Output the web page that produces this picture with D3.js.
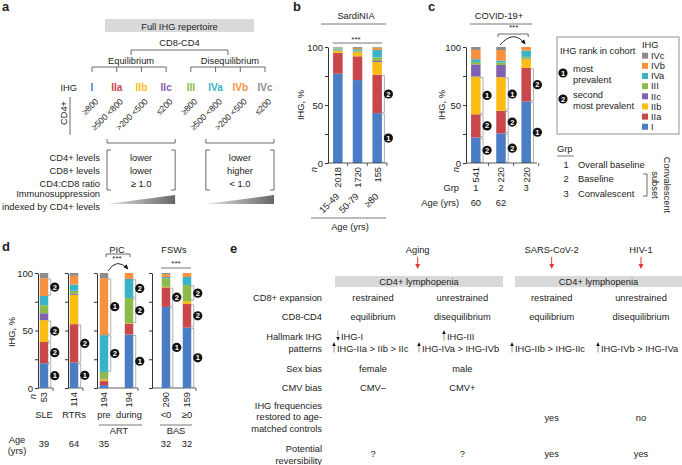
<!DOCTYPE html>
<html>
<head>
<meta charset="utf-8">
<script src="https://cdn.jsdelivr.net/npm/d3@7"></script>
<style>
body { margin: 0; background: #fff; }
svg text { font-family: "Liberation Sans", Arial, sans-serif; font-size: 9.3px; fill: #222; }
</style>
</head>
<body>
<svg id="fig" width="682" height="465"></svg>
<script>
// IHG groups and colours
var ihgTypes = ["I", "IIa", "IIb", "IIc", "III", "IVa", "IVb", "IVc"];
var ihgColors = ["#4a7dc4", "#c8474b", "#fbbd14", "#8062b0", "#8dbb4b", "#3ab3c9", "#f6923f", "#8c8c8c"];

// panel a
var cd4Bins = ["≥800", "≥500 <800", ">200 <500", "≤200"];
var levelLabels = ["CD4+ levels", "CD8+ levels", "CD4:CD8 ratio"];
var eqLevels = ["lower", "lower", "≥ 1.0"];
var diseqLevels = ["lower", "higher", "< 1.0"];

// panel b: SardiNIA, % of each IHG (I..IVc)
var sardAges = ["15-49", "50-79", "≥80"];
var sardN = ["2018", "1720", "155"];
var sardValues = [
    [77, 18, 1.5, 0.3, 1, 1, 0.8, 0.4],
    [71.5, 20.5, 3.5, 0.5, 1, 1.2, 1, 0.8],
    [43, 33, 11, 1, 3, 6.5, 2, 0.5]
];
var sardRanks = [[], [], [[0, 1], [1, 2]]];   // [IHG index, rank]

// panel c: COVID-19+
var covGrp = ["1", "2", "3"];
var covN = ["541", "220", "220"];
var covAge = ["60", "62", ""];
var covValues = [
    [22, 20, 32.5, 10.5, 2, 2.5, 8, 2.5],
    [25.5, 19.5, 29, 10.5, 2, 1.7, 9.2, 2.6],
    [53, 29, 7.5, 0.5, 1.5, 5.5, 3, 0]
];
var covRanks = [[[0, 2], [1, 2], [2, 1]], [[0, 2], [1, 2], [2, 1]], [[0, 1], [1, 2]]];
var grpNames = ["Overall baseline", "Baseline", "Convalescent"];

// panel d
var dGroups = ["SLE", "RTRs", "PIC", "FSWs"];
var dBars = ["SLE", "RTRs", "pre", "during", "<0", "≥0"];
var dBarGroup = ["SLE", "RTRs", "PIC", "PIC", "FSWs", "FSWs"];
var dN = ["53", "114", "194", "194", "290", "159"];
var dAge = ["39", "64", "35", "", "32", "32"];
var dValues = [
    [21.5, 18.5, 19, 6, 7, 8, 15.5, 4.5],
    [22, 33.5, 25.5, 1, 2.5, 5.5, 7.5, 2.5],
    [2.5, 3.5, 1.5, 0.5, 6, 32, 49.5, 4.5],
    [46.5, 9.5, 0.3, 0, 22, 16.5, 5.2, 0],
    [70.5, 17, 0.5, 0, 7.5, 1, 2.5, 1],
    [52.5, 20.5, 2.5, 0, 14, 7, 3.5, 0]
];
var dRanks = [
    [[0, 1], [1, 2], [2, 2], [6, 2]],
    [[0, 1], [1, 2]],
    [[5, 2], [6, 1]],
    [[0, 1], [4, 2], [5, 2]],
    [[0, 1], [1, 2]],
    [[0, 1], [1, 2], [4, 2]]
];

// panel e
var eRows = [["CD8+ expansion"], ["CD8-CD4"], ["Hallmark IHG", "patterns"], ["Sex bias"], ["CMV bias"],
    ["IHG frequencies", "restored to age-", "matched controls"], ["Potential", "reversibility"]];
var eCauses = ["Aging", "SARS-CoV-2", "HIV-1"];
var eExpansion = ["restrained", "unrestrained", "restrained", "unrestrained"];
var eBalance = ["equilibrium", "disequilibrium", "equilibrium", "disequilibrium"];
var eSex = ["female", "male", "", ""];
var eCmv = ["CMV–", "CMV+", "", ""];
var eRestored = ["", "", "yes", "no"];
var eReversible = ["?", "?", "yes", "yes"];

var svg = d3.select("#fig");
var defs = svg.append("defs");
defs.append("marker").attr("id", "head").attr("viewBox", "0 0 10 10").attr("refX", 8).attr("refY", 5)
    .attr("markerWidth", 6).attr("markerHeight", 6).attr("orient", "auto")
    .append("path").attr("d", "M0,1L9,5L0,9Z").attr("fill", "#111");
var grad = defs.append("linearGradient").attr("id", "wedge");
grad.append("stop").attr("offset", "0").attr("stop-color", "#e4e4e4");
grad.append("stop").attr("offset", "1").attr("stop-color", "#666");

function label(g, x, y, s, anchor) {
    return g.append("text").attr("x", x).attr("y", y).attr("text-anchor", anchor || "start").text(s);
}
function panelLetter(x, y, s) {
    svg.append("text").attr("x", x).attr("y", y).style("font-weight", "bold").style("font-size", "13px").text(s);
}
function line(g, d, col, w) {
    return g.append("path").attr("d", d).attr("fill", "none").attr("stroke", col || "#444").attr("stroke-width", w || 0.8);
}
function badge(g, x, y, r) {
    g.append("circle").attr("cx", x).attr("cy", y).attr("r", 4.6).attr("fill", "#111");
    g.append("text").attr("x", x).attr("y", y + 2.6).attr("text-anchor", "middle")
        .style("fill", "#fff").style("font-weight", "bold").style("font-size", "7.5px").text(r);
}

// stacked bars + rank brackets
function stackBars(g, xc, y, names, values, ranks, bw) {
    var rows = names.map(function(n, i) {
        var o = {name: n};
        ihgTypes.forEach(function(t, j) { o[t] = values[i][j]; });
        return o;
    });
    var series = d3.stack().keys(ihgTypes)(rows);
    g.selectAll(null).data(series).join("g")
        .attr("fill", function(d, i) { return ihgColors[i]; })
        .selectAll("rect").data(function(d) { return d; }).join("rect")
        .attr("x", function(d) { return xc(d.data.name) - bw / 2; })
        .attr("y", function(d) { return y(d[1]); })
        .attr("width", bw)
        .attr("height", function(d) { return Math.max(0, y(d[0]) - y(d[1])); });
    names.forEach(function(n, i) {
        ranks[i].forEach(function(r) {
            var s = series[r[0]][i];
            var x0 = xc(n) + bw / 2, y0 = y(s[0]) - 0.8, y1 = y(s[1]) + 0.8;
            line(g, "M" + (x0 - 1) + "," + y1 + "H" + (x0 + 2.5) + "V" + y0 + "H" + (x0 - 1), "#9a9a9a", 0.8);
            badge(g, x0 + 6.5, (y0 + y1) / 2, r[1]);
        });
    });
}
function yAxis(g, x, y, labels) {
    var ax = g.append("g").attr("transform", "translate(" + x + ",0)")
        .call(d3.axisLeft(y).tickValues([0, 25, 50, 75, 100])
            .tickFormat(function(d) { return labels && d % 50 === 0 ? d : ""; })
            .tickSize(3).tickSizeOuter(0).tickPadding(2));
    ax.attr("font-family", null).attr("font-size", null);
    ax.selectAll("path,line").attr("stroke", "#333");
    ax.selectAll("text").style("font-size", "9.5px");
    return ax;
}

// ---------------- panel a ----------------
panelLetter(2, 11, "a");
var a = svg.append("g");
var xa = d3.scalePoint().domain(ihgTypes).range([92, 265]);
a.append("rect").attr("x", 105).attr("y", 19).attr("width", 149).attr("height", 13).attr("fill", "#d9d9d9");
var eqMid = (xa("I") + xa("IIc")) / 2 + 2, dqMid = (xa("III") + xa("IVc")) / 2;
label(a, (eqMid + dqMid) / 2, 29.5, "Full IHG repertoire", "middle");
label(a, (eqMid + dqMid) / 2, 46, "CD8-CD4", "middle");
line(a, "M" + eqMid + ",55V50H" + dqMid + "V55");
[["Equilibrium", ihgTypes.slice(0, 4), eqLevels], ["Disequilibrium", ihgTypes.slice(4), diseqLevels]].forEach(function(b) {
    var x0 = xa(b[1][0]), x1 = xa(b[1][3]);
    label(a, (x0 + x1) / 2 + 2, 64, b[0], "middle");
    line(a, "M" + x0 + ",67H" + x1);
    b[1].forEach(function(t) { line(a, "M" + xa(t) + ",67V72"); });
    // bracket below thresholds
    var l = x0 + 15, r = x1 + 9;
    line(a, "M" + l + ",139V143H" + r + "V139");
    line(a, "M" + (l + 4) + ",150H" + l + "V190H" + (l + 4));
    line(a, "M" + (r - 4) + ",150H" + r + "V190H" + (r - 4));
    b[2].forEach(function(s, i) { label(a, (l + r) / 2, 161 + i * 13, s, "middle"); });
    a.append("path").attr("d", "M" + l + ",204L" + r + ",204L" + r + ",195Z").attr("fill", "url(#wedge)");
});
label(a, 77, 91, "IHG", "end");
ihgTypes.forEach(function(t, i) {
    a.append("text").attr("x", xa(t)).attr("y", 91).attr("text-anchor", "middle")
        .style("fill", ihgColors[i]).style("font-size", "10px").style("font-weight", "bold").text(t);
    var x = xa(t) + 7, y = 102;
    a.append("text").attr("transform", "translate(" + x + "," + y + ") rotate(-45)")
        .attr("text-anchor", "end").style("font-size", "8.6px").text(cd4Bins[i % 4]);
});
a.append("text").attr("transform", "translate(67,113) rotate(-90)").attr("text-anchor", "middle").text("CD4+");
line(a, "M70,97V135");
levelLabels.forEach(function(s, i) { label(a, 100, 161 + i * 13, s, "end"); });
label(a, 100, 197, "Immunosuppression", "end");
label(a, 100, 209.5, "indexed by CD4+ levels", "end");

// ---------------- panel b ----------------
panelLetter(293, 11, "b");
var b = svg.append("g");
var yb = d3.scaleLinear().domain([0, 100]).range([163, 47]);
var xb = d3.scaleBand().domain(sardAges).range([328, 387]).paddingInner(0.5).paddingOuter(0.25);
var xbc = function(d) { return xb(d) + xb.bandwidth() / 2; };
label(b, 356, 19, "SardiNIA", "middle");
line(b, "M321,24H386", "#555");
yAxis(b, 328, yb, true);
b.append("text").attr("transform", "translate(304,105) rotate(-90)").attr("text-anchor", "middle").text("IHG, %");
stackBars(b, xbc, yb, sardAges, sardValues, sardRanks, 9.5);
line(b, "M328,163H387" + sardAges.map(function(d) { return "M" + (xb(d) + xb.bandwidth() + xb.step() * 0.25) + ",163v3"; }).join(""), "#333");
line(b, "M" + xb(sardAges[0]) + ",43H" + (xb(sardAges[2]) + xb.bandwidth()), "#555");
b.append("text").attr("x", 356).attr("y", 41.5).attr("text-anchor", "middle").style("font-size", "8px").text("***");
b.append("text").attr("transform", "translate(317,167) rotate(-90)").attr("text-anchor", "end").style("font-style", "italic").text("n");
sardAges.forEach(function(d, i) {
    b.append("text").attr("transform", "translate(" + (xbc(d) + 3.4) + ",167) rotate(-90)").attr("text-anchor", "end").text(sardN[i]);
    b.append("text").attr("transform", "translate(" + (xbc(d) + 2) + ",197) rotate(-45)").attr("text-anchor", "end").text(d);
});
line(b, "M311,218H386", "#555");
label(b, 350, 230, "Age (yrs)", "middle");

// ---------------- panel c ----------------
panelLetter(428, 11, "c");
var c = svg.append("g");
var xcS = d3.scaleBand().domain(covGrp).range([466, 536]).paddingInner(0.62).paddingOuter(0.2);
var xcc = function(d) { return xcS(d) + xcS.bandwidth() / 2; };
label(c, 499, 19, "COVID-19+", "middle");
line(c, "M470,24H532", "#555");
yAxis(c, 466, yb, true);
c.append("text").attr("transform", "translate(445,105) rotate(-90)").attr("text-anchor", "middle").text("IHG, %");
stackBars(c, xcc, yb, covGrp, covValues, covRanks, 9.5);
line(c, "M466,163H537" + covGrp.map(function(d) { return "M" + (xcS(d) + xcS.bandwidth() + xcS.step() * 0.31) + ",163v3"; }).join(""), "#333");
line(c, "M" + (xcc("2") - 3) + ",37V34H" + (xcc("3") + 2) + "V37", "#444");
c.append("text").attr("x", (xcc("2") + xcc("3")) / 2).attr("y", 30).attr("text-anchor", "middle").style("font-size", "8px").text("***");
line(c, "M" + (xcc("2") - 1) + ",45Q" + ((xcc("2") + xcc("3")) / 2) + ",29 " + (xcc("3") - 1) + ",44", "#111", 0.9).attr("marker-end", "url(#head)");
c.append("text").attr("transform", "translate(459,167) rotate(-90)").attr("text-anchor", "end").style("font-style", "italic").text("n");
label(c, 459, 191, "Grp", "end");
label(c, 459, 206, "Age (yrs)", "end");
covGrp.forEach(function(d, i) {
    c.append("text").attr("transform", "translate(" + (xcc(d) + 3.4) + ",167) rotate(-90)").attr("text-anchor", "end").text(covN[i]);
    label(c, xcc(d), 191, d, "middle");
    label(c, xcc(d), 206, covAge[i], "middle");
});

// legend
var lg = svg.append("g");
lg.append("rect").attr("x", 557).attr("y", 37).attr("width", 122).attr("height", 97).attr("fill", "none").attr("stroke", "#777").attr("stroke-width", 0.8);
label(lg, 560, 54, "IHG rank in cohort");
label(lg, 642, 48, "IHG");
badge(lg, 563, 73, 1);
label(lg, 573, 71.5, "most");
label(lg, 573, 82.5, "prevalent");
badge(lg, 563, 99, 2);
label(lg, 573, 98, "second");
label(lg, 573, 108.5, "most prevalent");
ihgTypes.slice().reverse().forEach(function(t, i) {
    var yy = 55.7 + i * 10.15;
    lg.append("rect").attr("x", 642).attr("y", yy - 3).attr("width", 6).attr("height", 6).attr("fill", ihgColors[7 - i]);
    label(lg, 651, yy + 3.3, t);
});
label(lg, 557, 152, "Grp");
line(lg, "M557,156H574", "#555");
covGrp.forEach(function(d, i) {
    label(lg, 566, 167.5 + i * 14.5, d, "middle");
    label(lg, 578, 167.5 + i * 14.5, grpNames[i]);
});
line(lg, "M643,174H647V196H643");
lg.append("text").attr("transform", "translate(652,185) rotate(90)").attr("text-anchor", "middle").text("subset");
lg.append("text").attr("transform", "translate(664,185) rotate(90)").attr("text-anchor", "middle").text("Convalescent");

// ---------------- panel d ----------------
panelLetter(2, 251, "d");
var dg = svg.append("g");
var yd = d3.scaleLinear().domain([0, 100]).range([388, 273]);
var dAxisX = d3.scaleOrdinal().domain(dGroups).range([38, 68, 97, 152]);
var dSpan = d3.scaleOrdinal().domain(dGroups).range([[44, 44], [74, 74], [104, 129], [166, 187]]);
var dPos = {};
dGroups.forEach(function(gname) {
    var bars = dBars.filter(function(d, i) { return dBarGroup[i] === gname; });
    var sc = d3.scalePoint().domain(bars).range(dSpan(gname));
    bars.forEach(function(bn) { dPos[bn] = sc(bn); });
    var ax = dAxisX(gname);
    yAxis(dg, ax, yd, gname === "SLE");
    var end = sc(bars[bars.length - 1]) + 9;
    line(dg, "M" + ax + ",388H" + end + "v3", "#333");
});
var dxc = function(n) { return dPos[n]; };
dg.append("text").attr("transform", "translate(15,332) rotate(-90)").attr("text-anchor", "middle").text("IHG, %");
stackBars(dg, dxc, yd, dBars, dValues, dRanks, 8.5);
dg.append("text").attr("transform", "translate(36,394) rotate(-90)").attr("text-anchor", "end").style("font-style", "italic").text("n");
dBars.forEach(function(d, i) {
    dg.append("text").attr("transform", "translate(" + (dxc(d) + 3.4) + ",392) rotate(-90)").attr("text-anchor", "end").text(dN[i]);
    label(dg, dxc(d), 447, dAge[i], "middle");
});
label(dg, dxc("SLE"), 418, "SLE", "middle");
label(dg, dxc("RTRs"), 418, "RTRs", "middle");
label(dg, dxc("pre"), 418, "pre", "middle");
label(dg, dxc("during"), 418, "during", "middle");
label(dg, dxc("<0"), 418, "<0", "middle");
label(dg, dxc("≥0"), 418, "≥0", "middle");
line(dg, "M99,425H142", "#555");
label(dg, 119, 434, "ART", "middle");
line(dg, "M160,425H192", "#555");
label(dg, 176, 434, "BAS", "middle");
label(dg, 117, 253, "PIC", "middle");
label(dg, 174, 253, "FSWs", "middle");
line(dg, "M" + (dxc("pre") + 2) + ",257V254H" + (dxc("during") + 1) + "V257", "#444");
dg.append("text").attr("x", 117).attr("y", 261).attr("text-anchor", "middle").style("font-size", "8px").text("***");
line(dg, "M" + (dxc("pre") + 4) + ",271Q117,257 " + (dxc("during") - 1) + ",269", "#111", 0.9).attr("marker-end", "url(#head)");
line(dg, "M" + (dxc("<0") - 5) + ",268H" + (dxc("≥0") + 4), "#555");
dg.append("text").attr("x", 176).attr("y", 266).attr("text-anchor", "middle").style("font-size", "8px").text("***");
label(dg, 17, 443, "Age", "middle");
label(dg, 17, 454, "(yrs)", "middle");

// ---------------- panel e ----------------
panelLetter(230, 253, "e");
var e = svg.append("g");
var xe = d3.scalePoint().domain([0, 1, 2, 3]).range([373, 641]).padding(0);
var rowY = [301, 319.5, 339.5, 371.5, 390.5, 408.5, 451.5];
eRows.forEach(function(r, i) {
    var lh = i === 5 ? 11.5 : 12;
    r.forEach(function(s, k) { label(e, 322, rowY[i] + k * lh, s, "end"); });
});
var causeX = [(xe(0) + xe(1)) / 2, xe(2), xe(3)];
eCauses.forEach(function(s, i) {
    label(e, causeX[i], 253, s, "middle");
    line(e, "M" + causeX[i] + ",257V266", "#e03a2f", 1);
    e.append("path").attr("d", "M" + (causeX[i] - 2.5) + ",264L" + causeX[i] + ",269L" + (causeX[i] + 2.5) + ",264Z").attr("fill", "#e03a2f");
});
[[335, 503], [515, 682]].forEach(function(r) {
    e.append("rect").attr("x", r[0]).attr("y", 276).attr("width", r[1] - r[0]).attr("height", 11).attr("fill", "#d9d9d9");
    label(e, (r[0] + r[1]) / 2, 285, "CD4+ lymphopenia", "middle");
});
[eExpansion, eBalance].forEach(function(arr, k) {
    arr.forEach(function(s, i) { label(e, xe(i), rowY[k], s, "middle"); });
});
eSex.forEach(function(s, i) { label(e, xe(i), rowY[3], s, "middle"); });
eCmv.forEach(function(s, i) { label(e, xe(i), rowY[4], s, "middle"); });
eRestored.forEach(function(s, i) { label(e, xe(i), 420.5, s, "middle"); });
eReversible.forEach(function(s, i) { label(e, xe(i), 457, s, "middle"); });

// hallmark patterns with small arrows
function trendArrow(x, y, up) {
    var top = y - 9, bot = y + 1;
    line(e, "M" + x + "," + top + "V" + bot, "#888", 0.9);
    var p = up ? "M" + (x - 1.8) + "," + (top + 3.5) + "L" + x + "," + top + "L" + (x + 1.8) + "," + (top + 3.5) + "Z"
               : "M" + (x - 1.8) + "," + (bot - 3.5) + "L" + x + "," + bot + "L" + (x + 1.8) + "," + (bot - 3.5) + "Z";
    e.append("path").attr("d", p).attr("fill", "#111");
}
var hallmark = [
    [338, 339.5, false, "IHG-I"],
    [334, 351.5, true, "IHG-IIa > IIb > IIc"],
    [444, 339.5, true, "IHG-III"],
    [419, 351.5, true, "IHG-IVa > IHG-IVb"],
    [512, 351.5, true, "IHG-IIb > IHG-IIc"],
    [598, 351.5, true, "IHG-IVb > IHG-IVa"]
];
hallmark.forEach(function(h) {
    trendArrow(h[0], h[1], h[2]);
    label(e, h[0] + 3, h[1], h[3]);
});
</script>
</body>
</html>
